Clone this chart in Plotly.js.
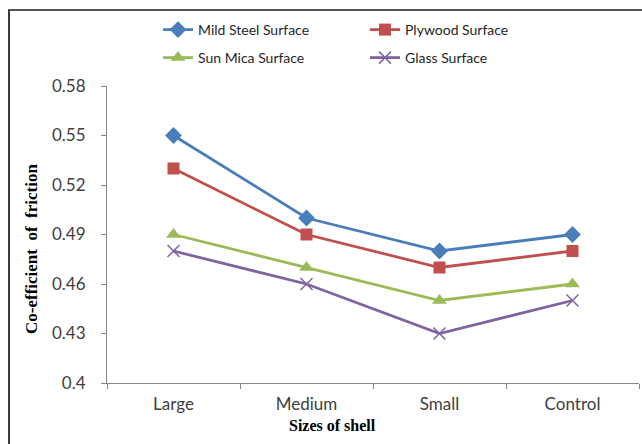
<!DOCTYPE html>
<html>
<head>
<meta charset="utf-8">
<script src="https://cdn.plot.ly/plotly-3.0.1.min.js"></script>
<style>
  html, body { margin: 0; padding: 0; background: #ffffff; overflow: hidden; }
  #wrap { position: relative; width: 642px; height: 444px; }
  #chart { width: 642px; height: 444px; }
  #frame {
    position: absolute; left: 8px; top: 9px; width: 634px; height: 435px;
    border-left: 2px solid #3a3a3a; border-top: 2px solid #555555;
    box-sizing: border-box; pointer-events: none;
  }
</style>
</head>
<body>
<div id="wrap">
  <div id="chart"></div>
  <div id="frame"></div>
</div>
<script>
const categories = ["Large", "Medium", "Small", "Control"];
const mildSteel = [0.55, 0.50, 0.48, 0.49];
const plywood = [0.53, 0.49, 0.47, 0.48];
const sunMica = [0.49, 0.47, 0.45, 0.46];
const glass = [0.48, 0.46, 0.43, 0.45];
const yTicks = [0.4, 0.43, 0.46, 0.49, 0.52, 0.55, 0.58];
const yTickText = ["0.4", "0.43", "0.46", "0.49", "0.52", "0.55", "0.58"];
const seriesNames = ["Mild Steel Surface", "Plywood Surface", "Sun Mica Surface", "Glass Surface"];

const colors = ["#4A7EBB", "#C0504D", "#9BBB59", "#8064A2"];
const symbols = ["diamond", "square", "triangle-up", "x-thin-open"];
const sizes = [13, 12, 13, 12];
const seriesData = [mildSteel, plywood, sunMica, glass];
const legendIds = ["legend", "legend2", "legend3", "legend4"];

const traces = seriesData.map((vals, i) => ({
  x: categories,
  y: vals,
  name: seriesNames[i],
  type: "scatter",
  mode: "lines+markers",
  line: { color: colors[i], width: 2.8 },
  marker: {
    symbol: symbols[i],
    size: sizes[i],
    color: colors[i],
    line: { color: colors[i], width: i === 3 ? 1.5 : 0 }
  },
  legend: legendIds[i]
}));

const tickFont = { family: "Lato, 'Open Sans', sans-serif", size: 17, color: "#404040" };
const legendFont = { family: "Lato, 'Open Sans', sans-serif", size: 14, color: "#262626" };

// plot area: x 107..639, y 86..383 (pixels)
const px = (p) => (p - 107) / 532;
const py = (p) => (383 - p) / 297;

function legendAt(xPix, yPix) {
  return {
    orientation: "h",
    x: px(xPix),
    xanchor: "left",
    y: py(yPix),
    yanchor: "middle",
    font: legendFont,
    bgcolor: "rgba(0,0,0,0)",
    borderwidth: 0
  };
}

const layout = {
  width: 642,
  height: 444,
  margin: { l: 107, r: 3, t: 86, b: 61 },
  paper_bgcolor: "#ffffff",
  plot_bgcolor: "#ffffff",
  showlegend: true,
  xaxis: {
    type: "category",
    range: [-0.5, 3.5],
    showline: true,
    linecolor: "#868686",
    linewidth: 1,
    ticks: "outside",
    tickson: "boundaries",
    ticklen: 5,
    tickcolor: "#868686",
    ticklabelstandoff: 6,
    showgrid: false,
    zeroline: false,
    tickfont: tickFont,
    fixedrange: true
  },
  yaxis: {
    range: [0.4, 0.58],
    tickvals: yTicks,
    ticktext: yTickText,
    showline: true,
    linecolor: "#868686",
    linewidth: 1,
    ticks: "outside",
    ticklen: 5,
    tickcolor: "#868686",
    ticklabelstandoff: 12,
    showgrid: false,
    zeroline: false,
    tickfont: tickFont,
    fixedrange: true
  },
  legend: legendAt(158, 30),
  legend2: legendAt(365, 30),
  legend3: legendAt(158, 58),
  legend4: legendAt(365, 58),
  annotations: [
    {
      text: "<b>Sizes of shell</b>",
      xref: "paper", yref: "paper",
      x: px(332), y: py(425),
      xanchor: "center", yanchor: "middle",
      showarrow: false,
      font: { family: "'Liberation Serif', 'Times New Roman', serif", size: 16, color: "#000000" }
    },
    {
      text: "<b>Co-efficient  of  friction</b>",
      xref: "paper", yref: "paper",
      x: px(31), y: py(249),
      xanchor: "center", yanchor: "middle",
      textangle: -90,
      showarrow: false,
      font: { family: "'Liberation Serif', 'Times New Roman', serif", size: 17, color: "#000000" }
    }
  ]
};

Plotly.newPlot("chart", traces, layout, { staticPlot: true, displayModeBar: false });
</script>
</body>
</html>
